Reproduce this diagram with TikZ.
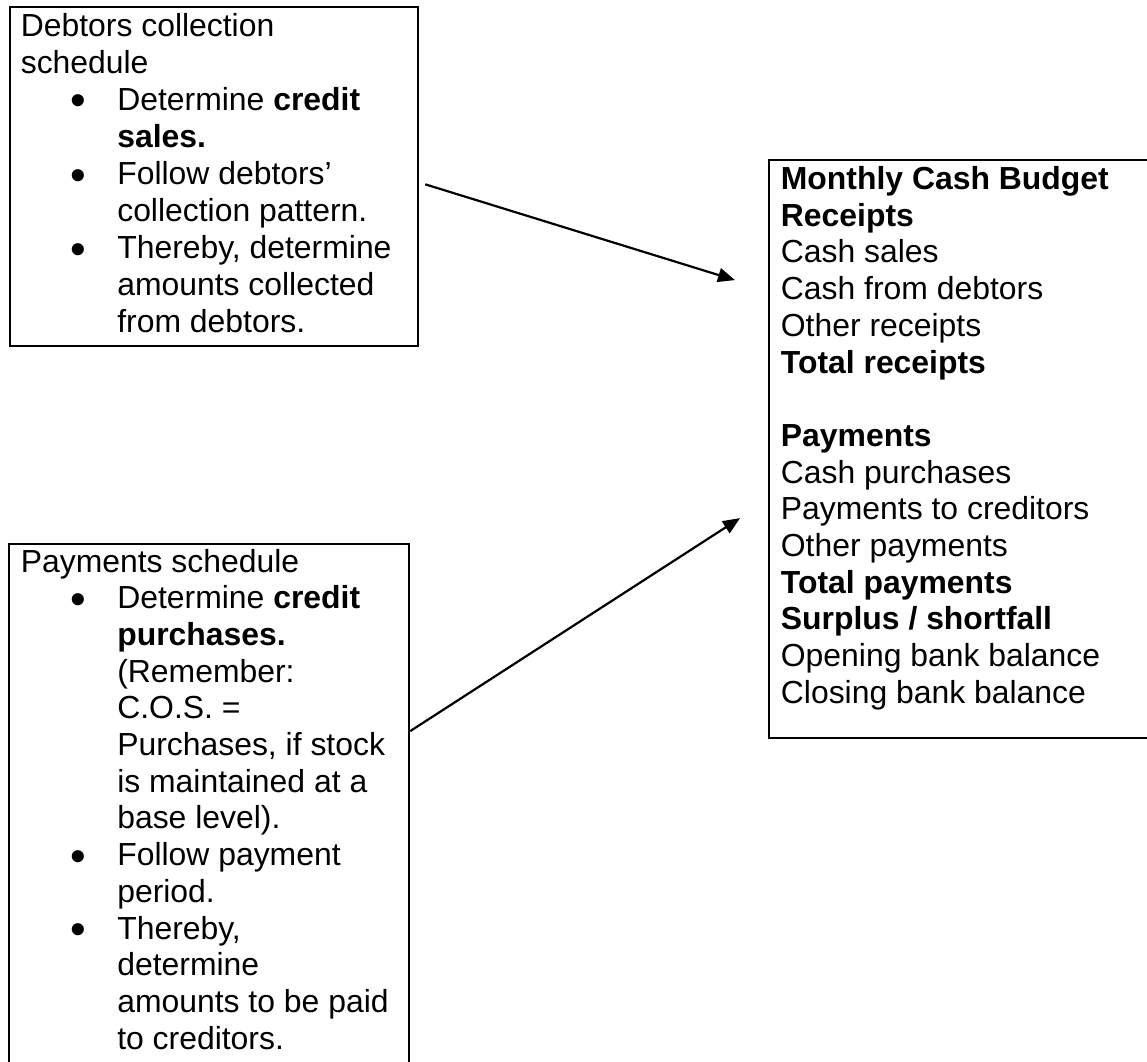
\documentclass[tikz,border=0pt]{standalone}
\usepackage{fontspec}
\setmainfont{Liberation Sans}
\usepackage{graphicx}
\usetikzlibrary{arrows.meta}

% list markers and indented lines inside the boxes
\newcommand\itembullet{\raisebox{-0.18em}{\scalebox{1.4}{•}}}
\newcommand\bl[1]{\hspace*{49.5pt}\makebox[47pt][l]{\itembullet}#1}
\newcommand\ct[1]{\hspace*{96.5pt}#1}

\begin{document}
\begin{tikzpicture}[x=1pt,y=-1pt,
  box/.style={draw, line width=2.2pt, rectangle, anchor=north west, inner sep=0pt},
  lines/.style={anchor=base west, inner sep=0pt},
  arr/.style={line width=2.2pt, -{Triangle[length=17pt,width=14pt]}}]
\useasboundingbox (0,0) rectangle (1147,1061);
\clip (0,0) rectangle (1147,1061);

% boxes
\node[box, minimum width=408pt, minimum height=339pt] (deb) at (8.5,5.7) {};
\node[box, minimum width=400pt, minimum height=540pt] (pay) at (8,543) {};
\node[box, minimum width=400pt, minimum height=578pt] (budget) at (768,159) {};

% box texts
\node[lines] (debtext) at (20.6,36) {\parbox[t]{390pt}{\fontsize{31.9pt}{37.1pt}\selectfont
Debtors collection\\
schedule\\
\bl{Determine \textbf{credit}}\\
\ct{\textbf{sales.}}\\
\bl{Follow debtors’}\\
\ct{collection pattern.}\\
\bl{Thereby, determine}\\
\ct{amounts collected}\\
\ct{from debtors.}}};

\node[lines] (paytext) at (20.6,572) {\parbox[t]{385pt}{\fontsize{31.9pt}{36.7pt}\selectfont
Payments schedule\\
\bl{Determine \textbf{credit}}\\
\ct{\textbf{purchases.}}\\
\ct{(Remember:}\\
\ct{C.O.S. =}\\
\ct{Purchases, if stock}\\
\ct{is maintained at a}\\
\ct{base level).}\\
\bl{Follow payment}\\
\ct{period.}\\
\bl{Thereby,}\\
\ct{determine}\\
\ct{amounts to be paid}\\
\ct{to creditors.}}};

\node[lines] (budtext) at (780.7,189.5) {\parbox[t]{360pt}{\fontsize{31.9pt}{36.7pt}\selectfont
\textbf{Monthly Cash Budget}\\
\textbf{Receipts}\\
Cash sales\\
Cash from debtors\\
Other receipts\\
\textbf{Total receipts}\\
\mbox{}\\
\textbf{Payments}\\
Cash purchases\\
Payments to creditors\\
Other payments\\
\textbf{Total payments}\\
\textbf{Surplus / shortfall}\\
Opening bank balance\\
Closing bank balance}};

% connectors
\coordinate (a1s) at ([xshift=6.5pt,yshift=-8pt]deb.east);
\coordinate (a1e) at ([xshift=-33pt,yshift=169pt]budget.west);
\coordinate (a2s) at ([yshift=83pt]pay.east);
\coordinate (a2e) at ([xshift=-28pt,yshift=-69pt]budget.west);
\draw[arr] (a1s) -- (a1e);
\draw[arr] (a2s) -- (a2e);
\end{tikzpicture}
\end{document}
